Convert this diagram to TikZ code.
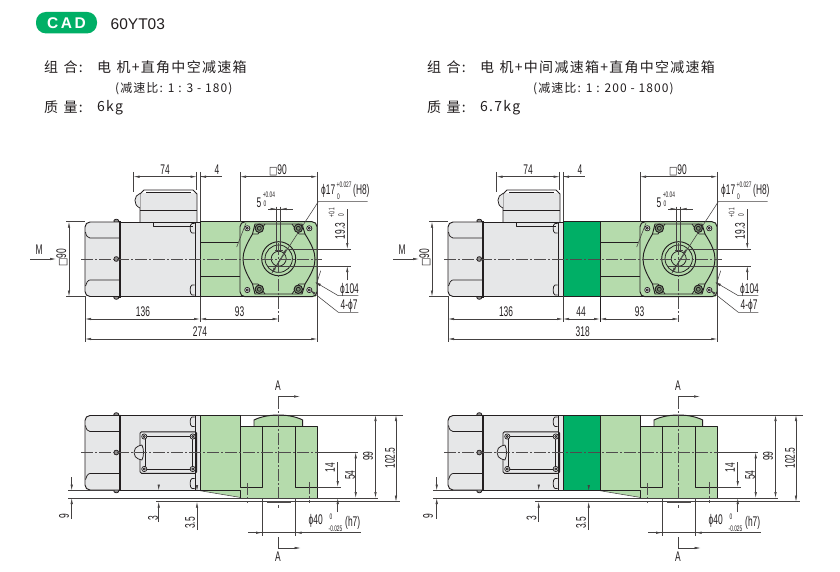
\documentclass[tikz,border=0pt]{standalone}
\usepackage{fontspec}
\usetikzlibrary{arrows.meta}
\setmainfont{Liberation Sans}
\newfontfamily\cjk[LetterSpace=9]{Noto Sans CJK SC}
\newfontfamily\dimf[FakeStretch=0.6]{Liberation Sans}
\newfontfamily\symf[FakeStretch=0.8]{DejaVu Sans}
\definecolor{lgreen}{HTML}{B5DBAC}
\definecolor{dgreen}{HTML}{00AF66}
\definecolor{mgray}{HTML}{E6E7E8}
\definecolor{ink}{HTML}{231F20}
\newcommand\wsp{\hspace{5.5pt}}
\tikzset{
 thickln/.style={draw=ink,line width=0.95pt,line join=round},
 midln/.style={draw=ink,line width=0.75pt,line join=round},
 thinln/.style={draw=ink!85,line width=0.55pt},
 centerln/.style={draw=ink!80,line width=0.6pt,dash pattern=on 12pt off 2pt on 2pt off 2pt},
 dimboth/.style={thinln,{Latex[length=6pt,width=2.4pt]}-{Latex[length=6pt,width=2.4pt]}},
 dimend/.style={thinln,-{Latex[length=6pt,width=2.4pt]}},
 dimtxt/.style={font=\dimf\fontsize{14}{14}\selectfont,inner sep=0pt,text=ink},
 dimsm/.style={font=\dimf\fontsize{8}{8}\selectfont,inner sep=0pt,text=ink},
 head/.style={font=\cjk\fontsize{14}{14}\selectfont,inner sep=0pt,anchor=west,text=ink},
 headsm/.style={font=\cjk\fontsize{12}{12}\selectfont,inner sep=0pt,anchor=west,text=ink},
}
\newcommand\smallbolt[2]{\draw[midln,fill=mgray!70] (#1,#2) circle (2.6);\draw[midln] (#1,#2) circle (1.1);}
\newcommand\bigbolt[2]{\draw[thickln,fill=lgreen!60!ink] (#1,#2) circle (4.2);\draw[midln] (#1,#2) circle (2);}
% motor body common to both views
\newcommand\motorbody{%
 \draw[midln,fill=ink!50] (116.3,221) ellipse (2.5 and 1.8);
 \draw[midln,fill=ink!50] (116.3,297.5) ellipse (2.5 and 1.8);
 \fill[mgray,rounded corners=5pt] (125,222) -- (85,222) -- (85,296.5) -- (125,296.5) -- cycle;
 \fill[mgray] (120,222) rectangle (200,296.5);
 \draw[thickln,rounded corners=5pt] (120,222) -- (85,222) -- (85,296.5) -- (120,296.5);
 \draw[thickln] (120,222) -- (195,222) -- (195,296.5) -- (120,296.5);
 \draw[midln] (195,222) -- (200,222) -- (200,296.5) -- (195,296.5);
 \draw[line width=1.6pt,ink] (120,221) -- (120,297.5);
 \draw[midln] (85.5,232) .. controls (86,236) and (88,238) .. (90,238) -- (120,238);
 \draw[midln] (85.5,286) .. controls (86,283) and (88,280) .. (90,280) -- (120,280);
 \draw[midln,fill=ink!50] (116.3,259) circle (2.4);
 \draw[midln,fill=mgray] (194.5,223.5) -- (192,223.5) .. controls (189.5,224) and (189.5,232.5) .. (192,233) -- (194.5,233);
 \draw[midln,fill=mgray] (194.5,285) -- (192,285) .. controls (189.5,285.5) and (189.5,294.5) .. (192,295) -- (194.5,295);
}
% motor top view extras
\newcommand\motortop[1]{%
 \motorbody
 \fill[mgray] (140,193) rectangle (197,222);
 \draw[thickln] (140,222) -- (140,194) -- (144,190) -- (193,190) -- (197,194) -- (197,222);
 \draw[midln] (140,210) -- (197,210);
 \draw[midln] (146,192) -- (191,192);
 \draw[midln,fill=mgray] (140,193.5) .. controls (134,195) and (132.5,205) .. (140,208);
 \draw[midln] (153,222) -- (153,226) -- (193,226);
 \draw[thinln] (133.5,172) -- (133.5,192);
 \draw[thinln] (196.7,172) -- (196.7,190);
 \draw[thinln] (200,172) -- (200,322);
 \draw[dimboth] (133.5,176.7) -- (196.7,176.7);
 \draw[thinln] (200,176.7) -- (222,176.7);
 \draw[dimend] (210,176.7) -- (200,176.7);
 \node[dimtxt] (#1a) at (165,170) {74};
 \node[dimtxt] (#1b) at (217,170) {4};
}
% gearbox top view
\newcommand\geartop[1]{%
 \fill[lgreen] (200,221.7) rectangle (316,296.7);
 \draw[thickln,fill=lgreen,rounded corners=5pt] (240,221.7) rectangle (317,296.7);
 \draw[thickln] (200,221.7) -- (245,221.7) (200,296.7) -- (245,296.7);
 \draw[thickln] (200,242) -- (238,242) (200,276) -- (240,276);
 \draw[thinln] (236.7,247) -- (246,223);
 \draw[thickln] (255,224) -- (302,224) -- (305,234) .. controls (312,245) and (315,252) .. (315,259) .. controls (315,266) and (312,273) .. (305,284) -- (302,294) -- (255,294) -- (252.5,284) .. controls (246,273) and (243,266) .. (243,259) .. controls (243,252) and (246,245) .. (252.5,234) -- cycle;
 \draw[midln] (252.5,234) -- (258,234) -- (265,224) (305,234) -- (299,234) -- (292,224) (252.5,284) -- (258,284) -- (265,294) (305,284) -- (299,284) -- (292,294);
 \foreach \px/\py in {247.3/228.3,309.3/228.3,247.3/290,309.3/290}{\smallbolt{\px}{\py}}
 \foreach \px/\py in {259.3/228.3,298.3/228.3,259.3/289.3,298.3/289.3}{\bigbolt{\px}{\py}}
 \draw[thickln] (278.7,258.7) circle (17);
 \draw[midln] (278.7,258.7) circle (13.7);
 \draw[midln] (278.7,258.7) circle (7.5);
 \draw[thinln] (276.7,206.7) -- (276.7,250) (280.7,206.7) -- (280.7,250) (275,250) -- (283,250);
 \draw[centerln] (278.7,243) -- (278.7,322);
 % square 90
 \draw[thinln] (240,172) -- (240,222) (317.3,172) -- (317.3,342);
 \draw[dimboth] (240,176.7) -- (317.3,176.7);
 \node[dimtxt] (#1c) at (278,170) {{\symf\fontsize{11}{11}\selectfont □}90};
 % keyway width
 \draw[thinln] (270,209) -- (293,209);
 \draw[dimend] (268,209) -- (276.7,209);
 \draw[dimend] (291,209) -- (280.7,209);
 \node[dimtxt] (#1d) at (259,202.5) {5};
 \node[dimsm] (#1e) at (269,194.5) {+0.04};
 \node[dimsm] (#1f) at (265,204) {0};
 % 19.3
 \draw[thinln] (288,249) -- (351,249) (268,266) -- (351,266);
 \draw[dimend] (347.3,209) -- (347.3,249);
 \draw[dimend] (347.3,280) -- (347.3,266);
 \node[dimtxt,rotate=90] (#1g) at (340,231) {19.3};
 \node[dimsm,rotate=90] (#1h) at (331.5,213) {+0.1};
 \node[dimsm,rotate=90] (#1i) at (341,215) {0};
 % bore leader
 \coordinate (#1j) at (318.3,201.7);
 \draw[thinln] (271.7,273.3) -- (#1j) -- (367.7,201.7);
 \draw[thinln,{Latex[length=6pt,width=2.6pt]}-{Latex[length=6pt,width=2.6pt]}] (271.7,273.3) -- (287,248);
 \node[dimtxt,anchor=west] (#1k) at (321,191) {ϕ17};
 \node[dimsm,anchor=west] (#1l) at (336.5,185) {+0.027};
 \node[dimsm] (#1m) at (338.5,197) {0};
 \node[dimtxt,anchor=west] (#1n) at (353,190.7) {(H8)};
 % 104 and 4-7
 \draw[thinln] (320.7,270.7) -- (316.5,284);
 \draw[thinln,{Latex[length=6pt,width=2.6pt]}-] (315,282) -- (338.3,295.7) -- (358.3,295.7);
 \draw[thinln,{Latex[length=6pt,width=2.6pt]}-] (310,290) -- (338.3,312.3) -- (358.3,312.3);
 \node[dimtxt] (#1o) at (349.5,289.5) {ϕ104};
 \node[dimtxt] (#1p) at (349,306) {4-ϕ7};
 % 93
 \draw[dimboth] (200,319) -- (278.7,319);
 \node[dimtxt] (#1q) at (239.5,312) {93};
}
\newcommand\motorbottom{%
 \motorbody
 \draw[thickln,rounded corners=1.5pt] (140,238.3) rectangle (196.7,279.8);
 \draw[midln] (145,242.6) rectangle (192.7,275.6);
 \draw[midln,fill=mgray] (142,251.5) .. controls (135,253) and (134,256) .. (134,259) .. controls (134,262) and (135,265) .. (142,266.5) .. controls (144,262) and (144,256) .. (142,251.5);
 \foreach \px/\py in {144.3/243,192.7/243,144.3/275.5,192.7/275.5}{\smallbolt{\px}{\py}}
}
\newcommand\gearbottom[1]{%
 \fill[lgreen] (200,415) rectangle (240,490.7);
 \fill[lgreen] (200,490.7) -- (240.7,490.7) -- (240.7,497.5) -- cycle;
 \fill[lgreen] (240,426) rectangle (317,498);
 \fill[lgreen] (254,426) -- (254,420) .. controls (262,416) and (272,415) .. (278,415) .. controls (285,415) and (295,416) .. (302.7,420) -- (302.7,426) -- cycle;
 \draw[thickln] (200,415) -- (200,490.7);
 \draw[thinln] (240,415) -- (403,415);
 \draw[thickln] (200,415) -- (240,415) -- (240,487) -- (262,487) -- (262,426) -- (240,426);
 \draw[thickln] (295,426) -- (295,487) -- (317,487) (295,426) -- (317,426) -- (317,498);
 \draw[thinln] (317,487) -- (341,487);
 \draw[thickln] (254,426) -- (254,420) .. controls (262,416) and (272,415) .. (278,415) .. controls (285,415) and (295,416) .. (302.7,420) -- (302.7,426);
 \draw[thickln] (254,426) -- (303,426);
 \draw[thinln] (200,490.7) -- (240.7,497.5);
 \draw[midln] (200,490.7) -- (240.7,490.7) -- (240.7,498);
 \draw[midln] (262,498) -- (262,501.7) (295.7,498) -- (295.7,501.7);
 \fill[ink!80] (267,501) rectangle (291,502.6);
 \draw[centerln] (247.7,483) -- (247.7,503) (309.7,482) -- (309.7,503);
 \draw[centerln] (278.3,397) -- (278.3,508);
 % section marks
 \coordinate (#1r) at (278.3,396.5);
 \coordinate (#1s) at (278.3,548);
 \draw[dimend] (#1r) -- (300,396.5);
 \draw[dimend] (#1s) -- (300.7,548);
 \draw[thinln] (#1s) -- (278.3,536.7);
 \node[dimtxt] (#1t) at (278,386) {A};
 \node[dimtxt] (#1u) at (278,557) {A};
 % right dims
 \draw[dimboth] (396,415) -- (396,501.7);
 \draw[dimboth] (375.5,415) -- (375.5,498);
 \draw[thinln] (317,452.3) -- (358,452.3);
 \draw[dimboth] (355.7,452.3) -- (355.7,498);
 \draw[dimend] (337.7,462) -- (337.7,487);
 \draw[dimend] (337.7,512) -- (337.7,498);
 \node[dimtxt,rotate=90] (#1v) at (390,458) {102.5};
 \node[dimtxt,rotate=90] (#1w) at (368,456) {99};
 \node[dimtxt,rotate=90] (#1x) at (350,475) {54};
 \node[dimtxt,rotate=90] (#1y) at (330,467.7) {14};
 % shaft diameter
 \draw[thinln] (262,498) -- (262,536) (295.7,498) -- (295.7,536);
 \draw[thinln] (248,532.7) -- (360.7,532.7);
 \draw[dimend] (250,532.7) -- (262,532.7);
 \draw[dimend] (308,532.7) -- (295.7,532.7);
 \node[dimtxt,anchor=west] (#1z) at (308.5,521) {ϕ40};
 \node[dimsm] (#1aa) at (331,516.5) {0};
 \node[dimsm,anchor=west] (#1ab) at (328.5,528.5) {-0.025};
 \node[dimtxt,anchor=west] (#1ac) at (345,522.7) {(h7)};
}
\begin{document}
\begin{tikzpicture}[x=1pt,y=-1pt]
\useasboundingbox (0,0) rectangle (840,572);
\fill[white] (0,0) rectangle (840,572);
% header
\node[fill=dgreen,rounded corners=10pt,minimum width=61pt,minimum height=21.5pt,inner sep=0pt,text=white,font=\bfseries\fontsize{15.5}{15.5}\selectfont] (cad) at (66.5,22.7) {C\,A\,D};
\node[inner sep=0pt,anchor=west,font=\fontsize{15.5}{15.5}\selectfont,text=ink] (model) at (110.5,24.5) {60YT03};
\node[head] (h1) at (44,67) {组\wsp 合:};
\node[head] (h2) at (97,67) {电\wsp 机+直角中空减速箱};
\node[headsm] (h3) at (115,88.5) {(减速比: 1 : 3 - 180)};
\node[head] (h4) at (44,107.5) {质\wsp 量:};
\node[head] (h5) at (97,107.5) {6kg};
\node[head] (h6) at (427,67) {组\wsp 合:};
\node[head] (h7) at (480,67) {电\wsp 机+中间减速箱+直角中空减速箱};
\node[headsm] (h8) at (533,88.5) {(减速比: 1 : 200 - 1800)};
\node[head] (h9) at (427,107.5) {质\wsp 量:};
\node[head] (h10) at (480,107.5) {6.7kg};
%
% ---------- top left
\begin{scope}\motortop{TL}\end{scope}
\begin{scope}\geartop{GL}\end{scope}
\draw[thickln] (200,221.7) -- (200,296.7);
\draw[centerln] (81,259) -- (322,259);
\node[dimtxt] (m1) at (39,250) {M};
\coordinate (m1a) at (30,259);
\draw[dimend] (m1a) -- (56,259);
\node[dimtxt,rotate=90] (m1b) at (62,258) {{\symf\fontsize{11}{11}\selectfont □}90};
\draw[thinln] (66,221.7) -- (85,221.7) (66,296.5) -- (85,296.5);
\draw[dimboth] (69,221.7) -- (69,296.5);
\draw[thinln] (85,296) -- (85,342);
\draw[dimboth] (85,319) -- (200,319);
\draw[dimboth] (85,339) -- (317.3,339);
\node[dimtxt] (n136) at (143,312) {136};
\node[dimtxt] (n274) at (200,332) {274};
% ---------- top right
\begin{scope}[shift={(363,0)}]\motortop{TR}\end{scope}
\fill[dgreen] (563,221.7) rectangle (600,296.7);
\begin{scope}[shift={(400,0)}]\geartop{GR}\end{scope}
\draw[thickln] (563,221.7) -- (600,221.7) (563,296.7) -- (600,296.7) (563,221.7) -- (563,296.7) (600,221.7) -- (600,322);
\draw[thinln] (563,296) -- (563,322);
\draw[centerln] (444,259) -- (722,259);
\node[dimtxt] (m2) at (402,250) {M};
\coordinate (m2a) at (393,259);
\draw[dimend] (m2a) -- (419,259);
\node[dimtxt,rotate=90] (m2b) at (425,258) {{\symf\fontsize{11}{11}\selectfont □}90};
\draw[thinln] (429,221.7) -- (448,221.7) (429,296.5) -- (448,296.5);
\draw[dimboth] (432,221.7) -- (432,296.5);
\draw[thinln] (448,296) -- (448,342);
\draw[dimboth] (448,319) -- (563,319);
\draw[dimboth] (563,319) -- (600,319);
\draw[dimboth] (448,339) -- (717.3,339);
\node[dimtxt] (r136) at (506,312) {136};
\node[dimtxt] (r44) at (581,312) {44};
\node[dimtxt] (r318) at (582.7,332) {318};
% ---------- bottom left
\draw[thinln] (68,490.5) -- (200,490.5) (68,498) -- (378,498) (156,501.7) -- (400,501.7);
\begin{scope}[shift={(0,193.5)}]\motorbottom\end{scope}
\begin{scope}\gearbottom{BL}\end{scope}
\draw[centerln] (81,452.5) -- (317,452.5);
\draw[dimend] (71.7,477) -- (71.7,490.5);
\draw[dimend] (71.7,519) -- (71.7,498);
\node[dimtxt,rotate=90] (a9) at (64,516) {9};
\draw[dimend] (158.7,485) -- (158.7,490.5);
\draw[dimend] (158.7,522) -- (158.7,501.7);
\node[dimtxt,rotate=90] (a3) at (153,518) {3};
\draw[dimend] (197,485) -- (197,491);
\draw[dimend] (197,530) -- (197,501.7);
\node[dimtxt,rotate=90] (a35) at (190,523) {3.5};
% ---------- bottom right
\draw[thinln] (433,490.5) -- (563,490.5) (433,498) -- (778,498) (535,501.7) -- (800,501.7);
\begin{scope}[shift={(363,193.5)}]\motorbottom\end{scope}
\fill[dgreen] (563,415) rectangle (600,490.5);
\begin{scope}[shift={(400,0)}]\gearbottom{BR}\end{scope}
\draw[thickln] (563,415) -- (600,415) (563,415) -- (563,490.5) -- (600,490.5);
\draw[centerln] (444,452.5) -- (717,452.5);
\draw[dimend] (436.7,477) -- (436.7,490.5);
\draw[dimend] (436.7,519) -- (436.7,498);
\node[dimtxt,rotate=90] (b9) at (428,516) {9};
\draw[dimend] (538.7,485) -- (538.7,490.5);
\draw[dimend] (538.7,522) -- (538.7,501.7);
\node[dimtxt,rotate=90] (b3) at (531.5,518) {3};
\draw[dimend] (588.7,485) -- (588.7,491);
\draw[dimend] (588.7,530) -- (588.7,501.7);
\node[dimtxt,rotate=90] (b35) at (581,523) {3.5};
\end{tikzpicture}
\end{document}
